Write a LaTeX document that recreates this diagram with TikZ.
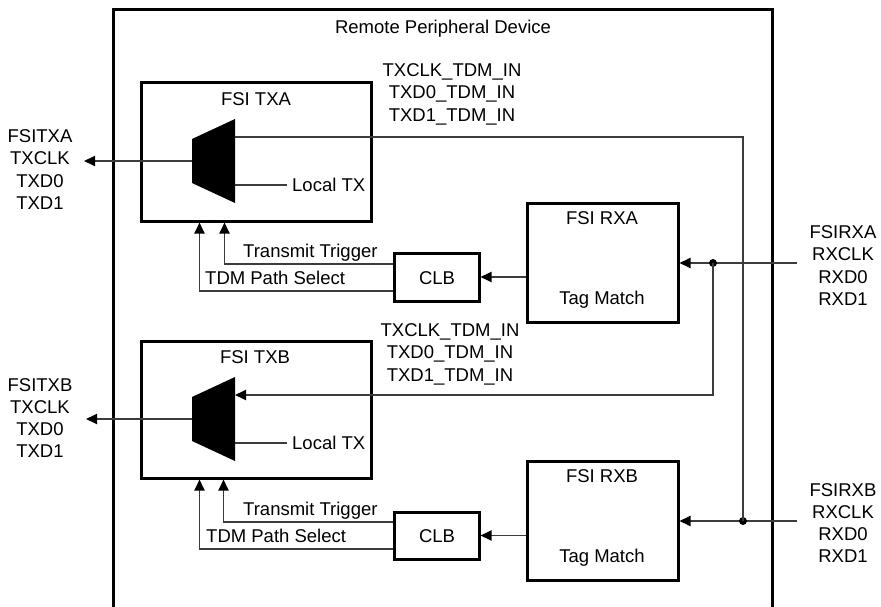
\documentclass[tikz,border=0pt]{standalone}
\usepackage{fontspec}
\setmainfont{Liberation Sans}
\usetikzlibrary{arrows.meta}
\definecolor{wire}{RGB}{60,60,60}
\tikzset{
  block/.style={draw=black, line width=3pt, inner sep=0pt, fill=white},
  wirel/.style={draw=wire, line width=1.8pt},
  conn/.style={wirel, -{Triangle[length=11pt,width=10pt,color=black]}},
  lbl/.style={inner sep=0pt, font=\fontsize{18.5}{22.3}\selectfont, text=black},
  multi/.style={lbl, align=center, text depth=0pt},
  dotm/.style={circle, fill=black, inner sep=0pt, minimum size=8pt},
}
\begin{document}
\begin{tikzpicture}[x=1pt,y=-1pt]
\useasboundingbox (0,0) rectangle (881,607);
% outer device frame (open at the bottom)
\draw[black, line width=3pt] (113,615) -- (113,10) -- (772,10) -- (772,615);
\node[lbl, anchor=base] (title) at (443,33.6) {Remote Peripheral Device};

% blocks
\node[block, minimum width=230pt, minimum height=138pt] (txa) at (256,152) {};
\node[block, minimum width=230pt, minimum height=137pt] (txb) at (256,409.5) {};
\node[block, minimum width=151pt, minimum height=119pt] (rxa) at (602.5,262.5) {};
\node[block, minimum width=151pt, minimum height=119pt] (rxb) at (602.5,520.5) {};
\node[block, minimum width=85pt, minimum height=48pt] (clba) at (436.5,277) {};
\node[block, minimum width=85pt, minimum height=47pt] (clbb) at (436.5,535.5) {};

% block texts
\node[lbl, anchor=base] (txat) at (256,105.6) {FSI TXA};
\node[lbl, anchor=base] (txbt) at (255,363.6) {FSI TXB};
\node[lbl, anchor=base] (rxat) at (602,224.6) {FSI RXA};
\node[lbl, anchor=base] (rxam) at (602,304.6) {Tag Match};
\node[lbl, anchor=base] (rxbt) at (602,482.6) {FSI RXB};
\node[lbl, anchor=base] (rxbm) at (602,562.6) {Tag Match};
\node[lbl, anchor=base] (clbat) at (437,284.6) {CLB};
\node[lbl, anchor=base] (clbbt) at (437,542.6) {CLB};

% multiplexers
\fill[black] (192,139) -- (235,119) -- (235,203) -- (192,183) -- cycle;
\fill[black] (192,397) -- (235,377) -- (235,461) -- (192,441) -- cycle;
\coordinate (muxAout) at (192,161);
\coordinate (muxBout) at (192,419);
\coordinate (muxAin) at (235,137);
\coordinate (muxBin) at (235,395);
\coordinate (muxAloc) at (235,185);
\coordinate (muxBloc) at (235,443);

% Local TX
\node[lbl, anchor=base west] (locA) at (292,191.6) {Local TX};
\node[lbl, anchor=base west] (locB) at (292,449.6) {Local TX};
\draw[wirel] (muxAloc) -- ([xshift=-5pt]locA.west |- muxAloc);
\draw[wirel] (muxBloc) -- ([xshift=-5pt]locB.west |- muxBloc);

% outputs
\coordinate (txaOut) at (84,161);
\coordinate (txbOut) at (86,419);
\draw[conn] (muxAout) -- (txaOut);
\draw[conn] (muxBout) -- (txbOut);
\node[multi] (fsitxa) at (40,169.5) {FSITXA\\TXCLK\\TXD0\\TXD1};
\node[multi] (fsitxb) at (40,418) {FSITXB\\TXCLK\\TXD0\\TXD1};

% receive inputs
\coordinate (rxaIn) at (797,263);
\coordinate (rxbIn) at (797,521);
\draw[conn] (rxaIn) -- (rxa.east |- rxaIn);
\draw[conn] (rxbIn) -- (rxb.east |- rxbIn);
\node[multi] (fsirxa) at (843,265.5) {FSIRXA\\RXCLK\\RXD0\\RXD1};
\node[multi] (fsirxb) at (843,523) {FSIRXB\\RXCLK\\RXD0\\RXD1};

% TDM feed lines
\node[dotm] (dotA) at (713,263) {};
\node[dotm] (dotB) at (743,521) {};
\draw[conn] (dotA.center) |- (muxBin);
\draw[wirel] (dotB.center) |- (muxAin);
\node[multi] (tdmA) at (452,92.5) {TXCLK\_TDM\_IN\\TXD0\_TDM\_IN\\TXD1\_TDM\_IN};
\node[multi] (tdmB) at (450,352.5) {TXCLK\_TDM\_IN\\TXD0\_TDM\_IN\\TXD1\_TDM\_IN};

% RX -> CLB
\draw[conn] (rxa.west |- clba.east) -- (clba.east);
\draw[conn] (rxb.west |- clbb.east) -- (clbb.east);

% CLB -> TX
\draw[conn] ([yshift=13pt]clba.west) -| ([xshift=85pt]txa.south west);
\draw[conn] ([yshift=-14pt]clba.west) -| ([xshift=60pt]txa.south west);
\draw[conn] ([yshift=13.5pt]clbb.west) -| ([xshift=84pt]txb.south west);
\draw[conn] ([yshift=-13.5pt]clbb.west) -| ([xshift=60pt]txb.south west);
\node[lbl, anchor=base west] (ttA) at (243,257.6) {Transmit Trigger};
\node[lbl, anchor=base west] (tdA) at (205,284.6) {TDM Path Select};
\node[lbl, anchor=base west] (ttB) at (243,515.6) {Transmit Trigger};
\node[lbl, anchor=base west] (tdB) at (206,542.6) {TDM Path Select};
\end{tikzpicture}
\end{document}
